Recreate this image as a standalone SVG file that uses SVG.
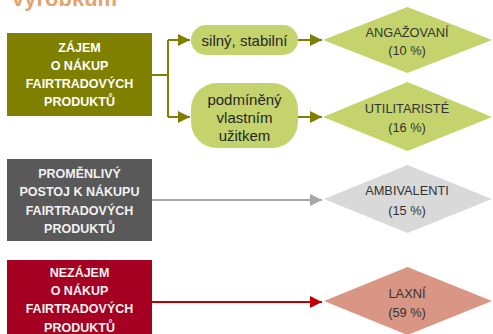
<svg xmlns="http://www.w3.org/2000/svg" width="493" height="334" viewBox="0 0 493 334">
<defs>
<style>
.box{font-family:"Liberation Sans",Arial,sans-serif;font-weight:bold;font-size:12.5px;text-anchor:middle}
.pill{font-family:"Liberation Sans",Arial,sans-serif;font-size:15px;text-anchor:middle;fill:#262626}
.dia{font-family:"Liberation Sans",Arial,sans-serif;font-size:12.8px;text-anchor:middle;fill:#333333}
.green{fill:#c4d36c}
</style>
<marker id="aOlive" markerUnits="userSpaceOnUse" markerWidth="13" markerHeight="12" refX="12" refY="6" orient="auto"><path d="M0,0 L12,6 L0,12 z" fill="#7f7f00"/></marker>
<marker id="aGray" markerUnits="userSpaceOnUse" markerWidth="13" markerHeight="12" refX="12" refY="6" orient="auto"><path d="M0,0 L12,6 L0,12 z" fill="#a6a6a6"/></marker>
<marker id="aRed" markerUnits="userSpaceOnUse" markerWidth="13" markerHeight="12" refX="12" refY="6" orient="auto"><path d="M0,0 L12,6 L0,12 z" fill="#c00000"/></marker>
</defs>
<rect width="493" height="334" fill="#ffffff"/>
<text x="12" y="6" font-family="Liberation Sans,Arial,sans-serif" font-weight="bold" font-size="22" fill="#e2a46c">výrobkům</text>

<g id="connectors" fill="none" stroke-width="2">
<path d="M152,75 H168 M168,40 V117" stroke="#7f7f00"/>
<path d="M168,40 H190" stroke="#7f7f00" marker-end="url(#aOlive)"/>
<path d="M168,117 H190" stroke="#7f7f00" marker-end="url(#aOlive)"/>
<path d="M298,40 H322" stroke="#7f7f00" marker-end="url(#aOlive)"/>
<path d="M298,117 H322" stroke="#7f7f00" marker-end="url(#aOlive)"/>
<path d="M152,200 H322" stroke="#a6a6a6" marker-end="url(#aGray)"/>
<path d="M152,302 H322" stroke="#c00000" marker-end="url(#aRed)"/>
</g>

<g id="zajem">
<rect x="7" y="33" width="145" height="83" fill="#7f7f00"/>
<text class="box" fill="#ffffff"><tspan x="79.5" y="51.5">ZÁJEM</tspan><tspan x="79.5" y="69.5">O NÁKUP</tspan><tspan x="79.5" y="87.5">FAIRTRADOVÝCH</tspan><tspan x="79.5" y="106">PRODUKTŮ</tspan></text>
</g>

<g id="promenlivy">
<rect x="7" y="159" width="145" height="82" fill="#595959"/>
<text class="box" fill="#f2f2f2"><tspan x="79.5" y="177.5">PROMĚNLIVÝ</tspan><tspan x="79.5" y="196">POSTOJ K NÁKUPU</tspan><tspan x="79.5" y="214.5">FAIRTRADOVÝCH</tspan><tspan x="79.5" y="232.5">PRODUKTŮ</tspan></text>
</g>

<g id="nezajem">
<rect x="7" y="260" width="145" height="80" fill="#a50021"/>
<text class="box" fill="#f2f2f2"><tspan x="79.5" y="276.5">NEZÁJEM</tspan><tspan x="79.5" y="294.5">O NÁKUP</tspan><tspan x="79.5" y="312.5">FAIRTRADOVÝCH</tspan><tspan x="79.5" y="331.5">PRODUKTŮ</tspan></text>
</g>

<g id="silny">
<rect x="191" y="25" width="107" height="30" rx="15" class="green"/>
<text class="pill" x="244.5" y="45.5">silný, stabilní</text>
</g>

<g id="podmineny">
<rect x="191" y="83" width="107" height="65" rx="26" class="green"/>
<text class="pill"><tspan x="244.5" y="105">podmíněný</tspan><tspan x="244.5" y="123">vlastním</tspan><tspan x="244.5" y="140.5">užitkem</tspan></text>
</g>

<g id="angazovani">
<polygon points="323,40 407.5,7 492,40 407.5,73" class="green"/>
<text class="dia"><tspan x="407" y="36.5">ANGAŽOVANÍ</tspan><tspan x="407" y="54.5">(10 %)</tspan></text>
</g>

<g id="utilitariste">
<polygon points="323,117 407.5,82 492,117 407.5,151" class="green"/>
<text class="dia"><tspan x="407" y="112.5">UTILITARISTÉ</tspan><tspan x="407" y="131.5">(16 %)</tspan></text>
</g>

<g id="ambivalenti">
<polygon points="324,199 407.5,165 492,199 407.5,233" fill="#d9d9d9"/>
<text class="dia"><tspan x="407" y="194.5">AMBIVALENTI</tspan><tspan x="407" y="214.5">(15 %)</tspan></text>
</g>

<g id="laxni">
<polygon points="324,301 407.5,267 492,301 407.5,335" fill="#d99684"/>
<text class="dia"><tspan x="407" y="297.5">LAXNÍ</tspan><tspan x="407" y="316.5">(59 %)</tspan></text>
</g>
</svg>
